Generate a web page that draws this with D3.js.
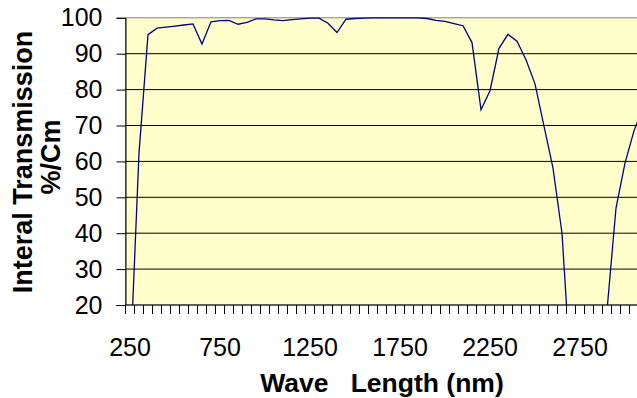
<!DOCTYPE html>
<html>
<head>
<meta charset="utf-8">
<script src="https://cdnjs.cloudflare.com/ajax/libs/d3/7.8.5/d3.min.js"></script>
<style>
  html, body { margin: 0; padding: 0; background: #fff; }
  svg { display: block; font-family: Arial, "Liberation Sans", sans-serif; }
</style>
</head>
<body>
<div id="chart"></div>
<script>
// wavelength categories (nm)
var wavelengths = [250, 300, 350, 400, 450, 500, 550, 600, 650, 700,
  750, 800, 850, 900, 950, 1000, 1050, 1100, 1150, 1200,
  1250, 1300, 1350, 1400, 1450, 1500, 1550, 1600, 1650, 1700,
  1750, 1800, 1850, 1900, 1950, 2000, 2050, 2100, 2150, 2200,
  2250, 2300, 2350, 2400, 2450, 2500, 2550, 2600, 2650, 2700,
  2750, 2800, 2850, 2900, 2950, 3000, 3050, 3100];

// internal transmission %/cm
var transmission = [2, 62.3, 95.3, 97.1, 97.4, 97.7, 98.0, 98.3, 92.7, 98.9,
  99.2, 99.3, 98.2, 98.7, 99.7, 99.7, 99.4, 99.2, 99.5, 99.7,
  99.9, 99.9, 98.5, 95.9, 99.6, 99.8, 99.9, 100, 100, 100,
  100, 100, 100, 99.8, 99.3, 99.0, 98.4, 97.8, 93.1, 74.4,
  79.7, 91.5, 95.4, 93.5, 88.3, 81.6, 69.8, 58.1, 40.0, 0,
  0, 0, 2, 18.5, 47.0, 59.5, 68.5, 75];

var xLabels = [250, 750, 1250, 1750, 2250, 2750];
var yTicks = [20, 30, 40, 50, 60, 70, 80, 90, 100];

(function() {
  var width = 637, height = 398;
  var plotLeft = 125.5, plotTop = 17.8, plotBottom = 305, band = 9;

  var svg = d3.select("#chart").append("svg")
    .attr("width", width)
    .attr("height", height);

  var x = d3.scaleBand()
    .domain(wavelengths)
    .range([plotLeft, plotLeft + band * wavelengths.length])
    .paddingInner(0).paddingOuter(0);

  var y = d3.scaleLinear().domain([20, 100]).range([plotBottom, plotTop]);

  var plotRight = x.range()[1];

  // plot area
  svg.append("rect")
    .attr("x", plotLeft).attr("y", plotTop)
    .attr("width", plotRight - plotLeft).attr("height", plotBottom - plotTop)
    .attr("fill", "#ffffcc")
    .attr("stroke", "#808080")
    .attr("stroke-width", 1);

  // gridlines
  svg.append("g")
    .selectAll("line")
    .data(yTicks.filter(function(d) { return d > 20 && d < 100; }))
    .enter().append("line")
    .attr("x1", plotLeft).attr("x2", plotRight)
    .attr("y1", function(d) { return y(d); })
    .attr("y2", function(d) { return y(d); })
    .attr("stroke", "#000")
    .attr("stroke-width", 1);

  svg.append("clipPath").attr("id", "plot-clip")
    .append("rect")
    .attr("x", plotLeft).attr("y", plotTop - 1)
    .attr("width", plotRight - plotLeft).attr("height", plotBottom - plotTop + 1);

  var line = d3.line()
    .x(function(d, i) { return x(wavelengths[i]) + x.bandwidth() / 2; })
    .y(function(d) { return y(d); });

  svg.append("path")
    .datum(transmission)
    .attr("clip-path", "url(#plot-clip)")
    .attr("fill", "none")
    .attr("stroke", "#000080")
    .attr("stroke-width", 1.3)
    .attr("d", line);

  // y axis
  var yAxis = svg.append("g")
    .attr("transform", "translate(" + plotLeft + ",0)")
    .call(d3.axisLeft(y).tickValues(yTicks).tickSize(9).tickPadding(14));
  yAxis.select(".domain").attr("stroke", "#000");
  yAxis.selectAll(".tick line").attr("stroke", "#000");
  yAxis.selectAll("text")
    .attr("font-size", 25)
    .attr("font-family", "Arial, 'Liberation Sans', sans-serif")
    .attr("fill", "#000");

  // x axis: ticks between categories, labels every 10th category
  var edges = wavelengths.map(function(d) { return x(d); });
  svg.append("g")
    .selectAll("line")
    .data(edges)
    .enter().append("line")
    .attr("x1", function(d) { return d; })
    .attr("x2", function(d) { return d; })
    .attr("y1", plotBottom).attr("y2", plotBottom + 9)
    .attr("stroke", "#000");

  var xAxis = svg.append("g")
    .attr("transform", "translate(0," + plotBottom + ")")
    .call(d3.axisBottom(x).tickValues(xLabels).tickSize(0).tickPadding(33));
  xAxis.select(".domain").attr("d", "M" + plotLeft + ",0H" + plotRight).attr("stroke", "#000");
  xAxis.selectAll("text")
    .attr("font-size", 25)
    .attr("font-family", "Arial, 'Liberation Sans', sans-serif")
    .attr("fill", "#000");

  // axis titles
  svg.append("text")
    .attr("x", 382)
    .attr("y", 392)
    .attr("text-anchor", "middle")
    .attr("font-size", 26.5)
    .attr("font-weight", "bold")
    .style("white-space", "pre")
    .text("Wave   Length (nm)");

  svg.append("text")
    .attr("text-anchor", "middle")
    .attr("transform", "translate(32,162) rotate(-90)")
    .attr("font-size", 27)
    .attr("font-weight", "bold")
    .text("Interal Transmission");

  svg.append("text")
    .attr("text-anchor", "middle")
    .attr("transform", "translate(60,157) rotate(-90)")
    .attr("font-size", 27)
    .attr("font-weight", "bold")
    .text("%/Cm");
})();
</script>
</body>
</html>
